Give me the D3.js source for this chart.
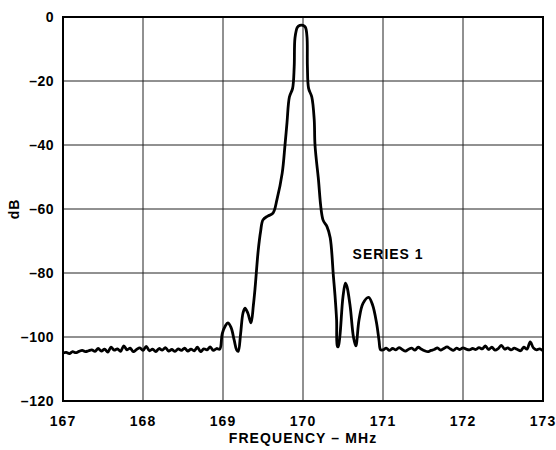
<!DOCTYPE html>
<html>
<head>
<meta charset="utf-8">
<script src="https://cdn.jsdelivr.net/npm/d3@7"></script>
<style>
  body { margin: 0; background: #fff; }
  text { font-family: "Liberation Sans", Arial, sans-serif; font-weight: bold; fill: #000; }
</style>
</head>
<body>
<svg id="chart" width="556" height="450"></svg>
<script>
// AXIS TICKS
const xTicks = [167, 168, 169, 170, 171, 172, 173];
const yTicks = [0, -20, -40, -60, -80, -100, -120];

// NOISE FLOOR LEFT (167.00 .. 168.96, every 0.04 MHz)
const noiseLeftStart = 167.0;
const noiseLeft = [
  -105.0, -104.8, -105.2, -104.6, -104.9, -104.5, -104.2, -104.6, -104.3, -104.0,
  -104.5, -103.6, -104.4, -103.8, -104.7, -103.2, -104.1, -103.7, -104.5, -102.8,
  -104.0, -103.5, -104.6, -103.9, -103.4, -104.2, -102.9, -104.3, -103.8, -104.6,
  -103.6, -104.1, -103.3, -104.4, -103.9, -104.5, -103.7, -104.2, -103.5, -104.4,
  -103.8, -104.3, -103.2, -104.6, -103.7, -104.0, -103.1, -104.2, -103.6, -103.8
];

// MAIN SIGNAL (frequency, dB)
const peakFreq = [
  168.99, 169.03, 169.06, 169.10, 169.14, 169.17, 169.19, 169.22, 169.25, 169.275,
  169.31, 169.35, 169.38, 169.40, 169.44, 169.47, 169.50, 169.56, 169.625, 169.675,
  169.74, 169.775, 169.80, 169.83, 169.87, 169.89, 169.90, 169.93, 169.96, 170.00,
  170.03, 170.05, 170.055, 170.07, 170.11, 170.14, 170.15, 170.19, 170.25, 170.30,
  170.34, 170.38, 170.40, 170.42, 170.43, 170.44, 170.46, 170.50, 170.53, 170.55,
  170.59, 170.63, 170.66, 170.70, 170.75, 170.82, 170.87, 170.92, 170.95, 170.97
];
const peakDb = [
  -99.0, -96.5, -95.6, -97.0, -101.0, -104.0, -104.5, -99.0, -92.5, -91.0,
  -92.5, -95.6, -90.0, -85.0, -73.0, -67.0, -63.4, -62.2, -61.3, -57.0,
  -48.8, -40.0, -33.0, -25.0, -22.3, -15.5, -6.5, -3.2, -2.6, -2.6,
  -3.2, -6.2, -15.5, -22.3, -25.0, -32.0, -40.0, -50.0, -63.4, -65.5,
  -69.0, -81.0, -87.0, -94.7, -103.0, -103.0, -100.0, -87.4, -83.2, -84.3,
  -90.5, -99.9, -102.8, -94.7, -89.5, -87.6, -90.0, -95.7, -101.0, -104.0
];

// NOISE FLOOR RIGHT (171.00 .. 173.00, every 0.04 MHz)
const noiseRightStart = 171.0;
const noiseRight = [
  -104.0, -103.5, -104.2, -103.6, -104.0, -103.3, -103.9, -104.4, -103.8, -103.5,
  -104.1, -103.2, -103.8, -104.3, -104.6, -104.2, -103.9, -103.4, -104.1, -103.6,
  -103.1, -103.7, -104.2, -103.5, -103.9, -103.4, -103.8, -104.0, -103.6, -103.9,
  -103.3, -103.7, -102.8, -103.9, -103.2, -104.1, -103.6, -102.6, -103.8, -103.4,
  -104.0, -103.5, -103.9, -104.3, -103.2, -103.8, -101.5, -103.4, -104.0, -103.7, -104.3
];
const noiseStep = 0.04;

const seriesName = "SERIES 1";

// BUILD POINTS
const points = [];
noiseLeft.forEach((v, i) => points.push([noiseLeftStart + i * noiseStep, v]));
peakFreq.forEach((f, i) => points.push([f, peakDb[i]]));
noiseRight.forEach((v, i) => points.push([noiseRightStart + i * noiseStep, v]));

// LAYOUT
const margin = { left: 63, top: 17, right: 13, bottom: 49 };
const width = 556, height = 450;
const svg = d3.select("#chart");

const x = d3.scaleLinear().domain([167, 173]).range([margin.left, width - margin.right]);
const y = d3.scaleLinear().domain([-120, 0]).range([height - margin.bottom, margin.top]);

// GRID
svg.append("g")
  .selectAll("line.vgrid")
  .data(xTicks)
  .join("line")
  .attr("x1", d => x(d)).attr("x2", d => x(d))
  .attr("y1", y(0)).attr("y2", y(-120))
  .attr("stroke", "#222").attr("stroke-width", 1);

svg.append("g")
  .selectAll("line.hgrid")
  .data(yTicks)
  .join("line")
  .attr("x1", x(167)).attr("x2", x(173))
  .attr("y1", d => y(d)).attr("y2", d => y(d))
  .attr("stroke", "#222").attr("stroke-width", 1);

// FRAME
svg.append("rect")
  .attr("x", x(167)).attr("y", y(0))
  .attr("width", x(173) - x(167)).attr("height", y(-120) - y(0))
  .attr("fill", "none").attr("stroke", "#000").attr("stroke-width", 2);

// TICK LABELS
svg.append("g")
  .selectAll("text")
  .data(yTicks)
  .join("text")
  .attr("x", x(167) - 9)
  .attr("y", d => y(d) + 5)
  .attr("text-anchor", "end")
  .attr("font-size", 14)
  .style("letter-spacing", "0.5px")
  .text(d => d === 0 ? "0" : "\u2013" + Math.abs(d));

svg.append("g")
  .selectAll("text")
  .data(xTicks)
  .join("text")
  .attr("x", d => x(d))
  .attr("y", 426)
  .attr("text-anchor", "middle")
  .attr("font-size", 14)
  .style("letter-spacing", "1px")
  .text(d => d);

// AXIS TITLES
svg.append("text")
  .attr("x", (x(167) + x(173)) / 2)
  .attr("y", 443)
  .attr("text-anchor", "middle")
  .attr("font-size", 14)
  .style("letter-spacing", "1.1px")
  .text("FREQUENCY \u2013 MHz");

svg.append("text")
  .attr("transform", `translate(19, ${(y(0) + y(-120)) / 2}) rotate(-90)`)
  .attr("text-anchor", "middle")
  .attr("font-size", 14)
  .style("letter-spacing", "1px")
  .text("dB");

// SERIES LABEL
svg.append("text")
  .attr("x", x(170.62))
  .attr("y", y(-75.5))
  .attr("font-size", 14)
  .style("letter-spacing", "1px")
  .text(seriesName);

// LINE
const line = d3.line()
  .x(d => x(d[0]))
  .y(d => y(d[1]))
  .curve(d3.curveCatmullRom.alpha(0.5));

svg.append("path")
  .datum(points)
  .attr("d", line)
  .attr("fill", "none")
  .attr("stroke", "#000")
  .attr("stroke-width", 2.8)
  .attr("stroke-linejoin", "round");
</script>
</body>
</html>
